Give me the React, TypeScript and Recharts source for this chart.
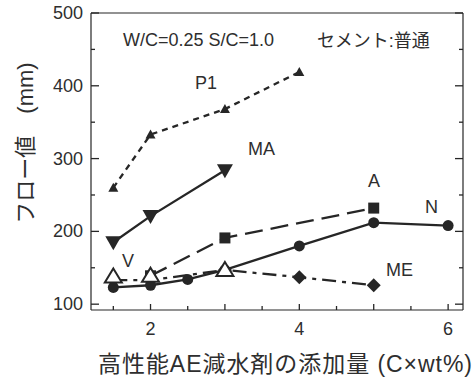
import React from "react";
import { LineChart, Line, XAxis, YAxis } from "recharts";

// flow value (mm) vs superplasticizer dosage (C x wt%)
const xP1 = [1.5, 2, 3, 4];
const yP1 = [260, 333, 368, 419];
const xMA = [1.5, 2, 3];
const yMA = [185, 221, 284];
const xA = [2, 3, 5];
const yA = [139, 191, 232];
const xN = [1.5, 2, 2.5, 3, 4, 5, 6];
const yN = [123, 126, 134, 147, 180, 212, 208];
const xME = [1.5, 2, 3, 4, 5];
const yME = [133, 133, 147, 137, 126];
const xV = [1.5, 2, 3];
const yV = [138, 139, 147];

const xLabels = [2, 4, 6];
const xAllTicks = [1.5, 2, 2.5, 3, 3.5, 4, 4.5, 5, 5.5, 6];
const yLabels = [100, 200, 300, 400, 500];
const yAllTicks = [100, 150, 200, 250, 300, 350, 400, 450, 500];

const INK = "#262626";
const TXT = "#2e2e2e";
const FONT = '"Liberation Sans", Arial, "Noto Sans CJK JP", sans-serif';
const X_DOMAIN = [1.2, 6.2];
const Y_DOMAIN = [92, 500];

const pts = (xs: number[], ys: number[]) => xs.map((x, i) => ({ x, y: ys[i] }));

function marker(kind: string) {
    return (p: any) => {
        const { cx, cy, index } = p;
        const k = `${kind}-${index}`;
        if (cx == null || cy == null) return <g key={k} />;
        switch (kind) {
            case "triSmall":
                return <polygon key={k} points={`${cx},${cy - 5} ${cx + 5},${cy + 4} ${cx - 5},${cy + 4}`} fill={INK} />;
            case "triDown":
                return <polygon key={k} points={`${cx - 8},${cy - 6} ${cx + 8},${cy - 6} ${cx},${cy + 8}`} fill={INK} />;
            case "square":
                return <rect key={k} x={cx - 5.5} y={cy - 5.5} width={11} height={11} fill={INK} />;
            case "circle":
                return <circle key={k} cx={cx} cy={cy} r={5.5} fill={INK} />;
            case "diamond":
                return <polygon key={k} points={`${cx},${cy - 7} ${cx + 7},${cy} ${cx},${cy + 7} ${cx - 7},${cy}`} fill={INK} />;
            case "triOpen":
                return <polygon key={k} points={`${cx},${cy - 8} ${cx + 8.5},${cy + 6} ${cx - 8.5},${cy + 6}`} fill="#fff" stroke={INK} strokeWidth={2} />;
        }
        return <g key={k} />;
    };
}

// inward tick marks: integers / hundreds are long, halves short
const xLen = (v: number) => (Number.isInteger(v) ? 6 : 4);
const yLen = (v: number) => (v % 100 === 0 ? 8 : 4);

function BottomTick(p: any) {
    const { x, y, payload } = p;
    const v = payload.value;
    return (
        <g>
            <line x1={x} y1={y} x2={x} y2={y - xLen(v)} stroke={INK} strokeWidth={1.3} />
            {xLabels.includes(v) && (
                <text x={x} y={y + 25} textAnchor="middle" fill={TXT} fontSize={18} fontFamily={FONT}>{v}</text>
            )}
        </g>
    );
}
function TopTick(p: any) {
    const { x, y, payload } = p;
    return <line x1={x} y1={y} x2={x} y2={y + xLen(payload.value)} stroke={INK} strokeWidth={1.3} />;
}
function LeftTick(p: any) {
    const { x, y, payload } = p;
    const v = payload.value;
    return (
        <g>
            <line x1={x} y1={y} x2={x + yLen(v)} y2={y} stroke={INK} strokeWidth={1.3} />
            {yLabels.includes(v) && (
                <text x={x - 8} y={y + 6} textAnchor="end" fill={TXT} fontSize={18} fontFamily={FONT}>{v}</text>
            )}
        </g>
    );
}
function RightTick(p: any) {
    const { x, y, payload } = p;
    return <line x1={x} y1={y} x2={x - yLen(payload.value)} y2={y} stroke={INK} strokeWidth={1.3} />;
}

const textStyle = { fill: TXT, fontSize: 18, fontFamily: FONT };

export default function App() {
    return (
        <div style={{ position: "absolute", left: 0, top: 0, width: 476, height: 378, background: "#fff" }}>
            <LineChart width={476} height={378} margin={{ top: 0, right: 0, left: 0, bottom: 0 }}>
                <XAxis xAxisId="x" type="number" dataKey="x" domain={X_DOMAIN} ticks={xAllTicks} interval={0} allowDataOverflow
                    height={68} tickSize={0} tickMargin={0} tickLine={false} axisLine={{ stroke: INK, strokeWidth: 1.2 }} tick={<BottomTick />} />
                <XAxis xAxisId="top" orientation="top" type="number" domain={X_DOMAIN} ticks={xAllTicks} interval={0} allowDataOverflow
                    height={13} tickSize={0} tickMargin={0} tickLine={false} axisLine={{ stroke: INK, strokeWidth: 1.2 }} tick={<TopTick />} />
                <YAxis yAxisId="y" type="number" dataKey="y" domain={Y_DOMAIN} ticks={yAllTicks} interval={0} allowDataOverflow
                    width={91} tickSize={0} tickMargin={0} tickLine={false} axisLine={{ stroke: INK, strokeWidth: 1.2 }} tick={<LeftTick />} />
                <YAxis yAxisId="right" orientation="right" type="number" domain={Y_DOMAIN} ticks={yAllTicks} interval={0} allowDataOverflow
                    width={13} tickSize={0} tickMargin={0} tickLine={false} axisLine={{ stroke: INK, strokeWidth: 1.2 }} tick={<RightTick />} />

                <Line xAxisId="x" yAxisId="y" data={pts(xP1, yP1)} dataKey="y" stroke={INK} strokeWidth={2.3}
                    strokeDasharray="6 5" dot={marker("triSmall")} activeDot={false} isAnimationActive={false} />
                <Line xAxisId="x" yAxisId="y" data={pts(xMA, yMA)} dataKey="y" stroke={INK} strokeWidth={2.3}
                    dot={marker("triDown")} activeDot={false} isAnimationActive={false} />
                <Line xAxisId="x" yAxisId="y" data={pts(xA, yA)} dataKey="y" stroke={INK} strokeWidth={2.3}
                    strokeDasharray="18 8" dot={marker("square")} activeDot={false} isAnimationActive={false} />
                <Line xAxisId="x" yAxisId="y" data={pts(xME, yME)} dataKey="y" stroke={INK} strokeWidth={2.3}
                    strokeDasharray="14 6 4 6" dot={marker("diamond")} activeDot={false} isAnimationActive={false} />
                <Line xAxisId="x" yAxisId="y" data={pts(xN, yN)} dataKey="y" stroke={INK} strokeWidth={2.3}
                    dot={marker("circle")} activeDot={false} isAnimationActive={false} />
                <Line xAxisId="x" yAxisId="y" data={pts(xV, yV)} dataKey="y" stroke="none"
                    dot={marker("triOpen")} activeDot={false} isAnimationActive={false} />

                {/* annotations */}
                <text x={123} y={46} {...textStyle}>W/C=0.25 S/C=1.0</text>
                <text x={317} y={47} {...textStyle}>セメント:普通</text>
                <text x={195} y={89} {...textStyle}>P1</text>
                <text x={248} y={155} {...textStyle}>MA</text>
                <text x={368} y={187} {...textStyle}>A</text>
                <text x={425} y={213} {...textStyle}>N</text>
                <text x={122} y={267} {...textStyle}>V</text>
                <text x={386} y={276} {...textStyle}>ME</text>

                {/* axis titles */}
                <text x={25} y={143} transform="rotate(-90, 25, 143)" textAnchor="middle" dominantBaseline="central"
                    fill={TXT} fontSize={22} fontFamily={FONT}>フロー値　(mm)</text>
                <text x={98} y={372} textLength={374} lengthAdjust="spacing" fill={TXT} fontSize={23} fontFamily={FONT}>
                    高性能AE減水剤の添加量 (C×wt%)
                </text>
            </LineChart>
        </div>
    );
}
